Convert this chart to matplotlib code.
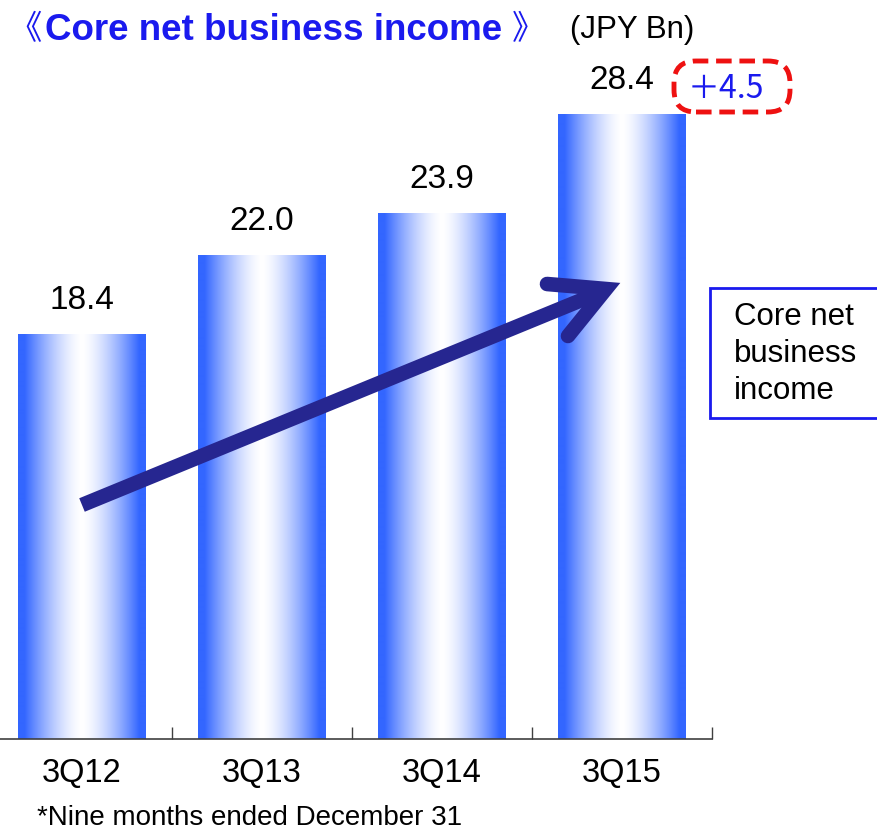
import numpy as np
import matplotlib
matplotlib.use("Agg")
import matplotlib.pyplot as plt
from matplotlib.lines import Line2D
from matplotlib.patches import FancyBboxPatch, Rectangle

categories = ["3Q12", "3Q13", "3Q14", "3Q15"]
values = [18.4, 22.0, 23.9, 28.4]
value_labels = ["18.4", "22.0", "23.9", "28.4"]
delta_label = "＋4.5"
title = "Core net business income"
unit = "(JPY Bn)"
legend_text = "Core net\nbusiness\nincome"
footnote = "*Nine months ended December 31"

W, H = 877, 830
fig = plt.figure(figsize=(W / 100, H / 100), dpi=100)
plt.rcParams['font.family'] = ['Liberation Sans', 'DejaVu Sans']

# axes: x from px -8 to 712, y baseline 739, top at 79 (=30 units)
ax_l, ax_r, ax_b, ax_t = -8, 712, 739, 79
ax = fig.add_axes([ax_l / W, 1 - ax_b / H, (ax_r - ax_l) / W, (ax_b - ax_t) / H])
ax.set_facecolor('none')

blue = np.array([51, 102, 255]) / 255.0
u = np.linspace(-1, 1, 256)
t = np.abs(u)
f = np.clip(t / 0.9, 0, 1) ** 1.5
grad = (1 - f)[:, None] * np.ones(3) + f[:, None] * blue
img = grad[None, :, :]

bw = 0.71
x = np.arange(len(categories))
for xi, v, lab in zip(x, values, value_labels):
    ax.imshow(img, extent=[xi - bw / 2, xi + bw / 2, 0, v], aspect='auto',
              interpolation='bilinear', zorder=2)
    ax.annotate(lab, (xi, v), xytext=(0, 13), textcoords='offset points',
                ha='center', va='bottom', fontsize=24, color='black')

ax.set_xlim(-0.5, len(categories) - 0.5)
ax.set_ylim(0, 30)
ax.set_aspect('auto')
for s in ['top', 'right', 'left']:
    ax.spines[s].set_visible(False)
ax.spines['bottom'].set_color('#404040')
ax.spines['bottom'].set_linewidth(1.2)
ax.set_yticks([])
ax.set_xticks(np.arange(len(categories) + 1) - 0.5, minor=True)
ax.set_xticks(x)
ax.set_xticklabels(categories, fontsize=23.5)
ax.tick_params(axis='x', which='major', length=0, pad=14)
ax.tick_params(axis='x', which='minor', direction='in', length=9, width=1, color='#404040')

# arrow (decorative) in axes fraction coords from pixel positions
def px(xp, yp):
    return ((xp - ax_l) / (ax_r - ax_l), (ax_b - yp) / (ax_b - ax_t))

navy = '#262690'
s0, tip = px(82, 505), px(606, 290)
ax.add_line(Line2D([s0[0], tip[0]], [s0[1], tip[1]], transform=ax.transAxes,
                   color=navy, lw=10.5, solid_capstyle='butt', zorder=5))
a1, tp, a2 = px(547, 284), px(606, 289), px(568, 336)
ax.add_line(Line2D([a1[0], tp[0], a2[0]], [a1[1], tp[1], a2[1]], transform=ax.transAxes,
                   color=navy, lw=10.5, solid_capstyle='round', solid_joinstyle='miter', zorder=5))

# title
fig.text(8 / W, 1 - 30 / H, "《", fontsize=24, color='#1a1aee',
         family=['Noto Sans CJK JP'], va='center', ha='left')
fig.text(45 / W, 1 - 30 / H, title, fontsize=26.5, color='#1a1aee', fontweight='bold',
         va='center', ha='left')
fig.text(512 / W, 1 - 30 / H, "》", fontsize=24, color='#1a1aee',
         family=['Noto Sans CJK JP'], va='center', ha='left')
fig.text(570 / W, 1 - 30 / H, unit, fontsize=22.5, color='black', va='center', ha='left')

# delta box (inches)
box = FancyBboxPatch((6.74, (H - 112) / 100), 1.16, 0.51,
                     boxstyle="round,pad=0,rounding_size=0.22", transform=fig.dpi_scale_trans,
                     facecolor='none', edgecolor='#ee1111', lw=3.5, linestyle=(0, (3.2, 1.6)))
fig.add_artist(box)
fig.text(726 / W, 1 - 89 / H, delta_label, fontsize=23, color='#1a1aee', va='center',
         ha='center', family=['Noto Sans CJK JP', 'Liberation Sans'])

# legend box
rect = Rectangle((710 / W, 1 - 418 / H), 200 / W, 130 / H, transform=fig.transFigure,
                 facecolor='white', edgecolor='#1a1aee', lw=2)
fig.add_artist(rect)
fig.text(734 / W, 1 - 354 / H, legend_text, fontsize=22.5, color='black', va='center',
         ha='left', linespacing=1.3)

fig.text(37 / W, 1 - 818 / H, footnote, fontsize=20, color='black', va='center', ha='left')

fig.savefig('out.png', dpi=100)
